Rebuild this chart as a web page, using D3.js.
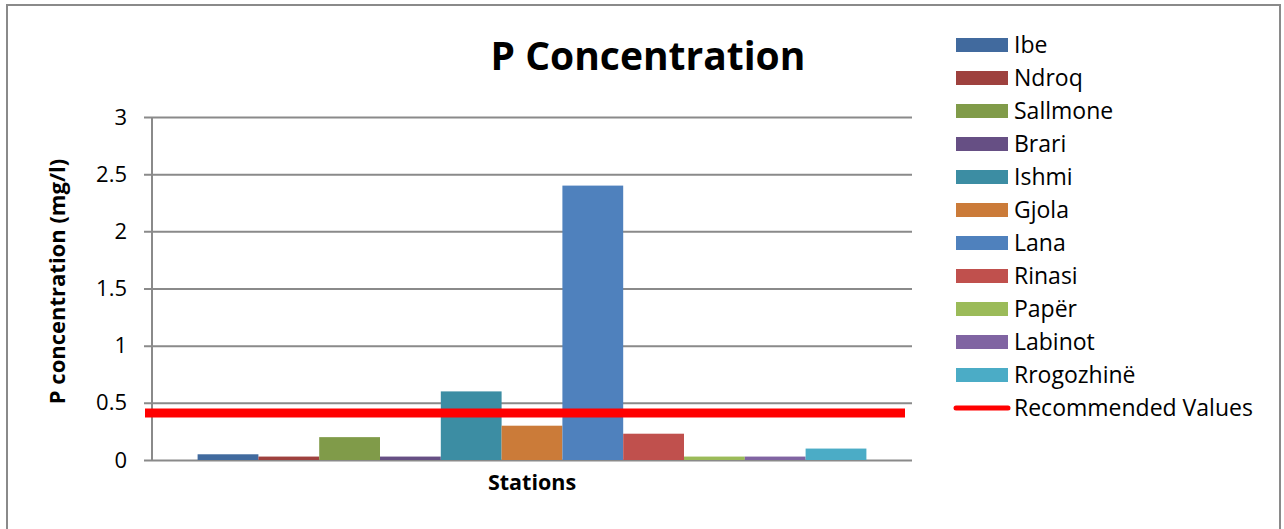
<!DOCTYPE html>
<html>
<head>
<meta charset="utf-8">
<script src="https://cdn.jsdelivr.net/npm/d3@7"></script>
<style>
  html, body { margin: 0; padding: 0; background: #fff; }
  svg text { font-family: "Open Sans", Lato, sans-serif; fill: #000; }
</style>
</head>
<body>
<svg id="chart" width="1284" height="529"></svg>
<script>
// Phosphorus concentration per station (mg/l)
const stations = ["Ibe", "Ndroq", "Sallmone", "Brari", "Ishmi", "Gjola", "Lana", "Rinasi", "Papër", "Labinot", "Rrogozhinë"];
const values = [0.05, 0.03, 0.20, 0.03, 0.60, 0.30, 2.40, 0.23, 0.03, 0.03, 0.10];
const colors = ["#416A9E", "#9E413E", "#809B49", "#664F84", "#3C8DA3", "#CB7B39", "#4F81BD", "#C0504D", "#9BBB59", "#8064A2", "#4BACC6"];
const recommended = 0.41;
const recommendedLabel = "Recommended Values";
const yTicks = [0, 0.5, 1, 1.5, 2, 2.5, 3];
const yTickLabels = ["0", "0.5", "1", "1.5", "2", "2.5", "3"];
const category = ["Stations"];

const svg = d3.select("#chart");
const W = 1284, H = 529;
const plot = { left: 152, right: 912, top: 117, bottom: 460 };
const grid = "#8a8a8a";

// outer chart frame
svg.append("path")
  .attr("d", `M7,${H} V5 H1280 V${H}`)
  .attr("fill", "none").attr("stroke", grid).attr("stroke-width", 2);

const y = d3.scaleLinear().domain([0, 3]).range([plot.bottom, plot.top]);

// single category band holding all station bars (150% gap width)
const x0 = d3.scaleBand().domain(category).range([plot.left, plot.right]).paddingInner(0).paddingOuter(0);
const barW = x0.bandwidth() / (stations.length + 1.5);
const x1 = d3.scaleBand().domain(stations)
  .range([x0("Stations") + barW * 0.75, x0("Stations") + x0.bandwidth() - barW * 0.75])
  .padding(0);

// gridlines + tick marks
const yAxis = d3.axisLeft(y).tickValues(yTicks)
  .tickFormat((d, i) => yTickLabels[i])
  .tickSize(-(plot.right - plot.left)).tickSizeOuter(0).tickPadding(25);
const gy = svg.append("g").attr("transform", `translate(${plot.left},0)`).call(yAxis);
gy.select(".domain").remove();
gy.selectAll(".tick line").attr("stroke", grid).attr("stroke-width", 2).attr("x1", -8);
gy.selectAll(".tick text").attr("font-size", 22).attr("fill", "#000")
  .style("font-family", "'Open Sans', sans-serif");

// vertical axis line
svg.append("line")
  .attr("x1", plot.left).attr("x2", plot.left)
  .attr("y1", y(3)).attr("y2", y(0))
  .attr("stroke", grid).attr("stroke-width", 2);

// bars
svg.append("g").selectAll("rect").data(stations).join("rect")
  .attr("x", d => x1(d))
  .attr("width", x1.bandwidth())
  .attr("y", (d, i) => y(values[i]))
  .attr("height", (d, i) => y(0) - y(values[i]))
  .attr("fill", (d, i) => colors[i]);

// recommended-value line
svg.append("line")
  .attr("x1", plot.left - 7).attr("x2", plot.right - 7)
  .attr("y1", y(recommended)).attr("y2", y(recommended))
  .attr("stroke", "#FF0000").attr("stroke-width", 9);

// title
svg.append("text")
  .attr("x", 648).attr("y", 70)
  .attr("text-anchor", "middle")
  .attr("font-size", 39).attr("font-weight", "bold")
  .text("P Concentration");

// axis titles
svg.append("text")
  .attr("x", 532)
  .attr("y", 490)
  .attr("text-anchor", "middle")
  .attr("font-size", 21.5).attr("font-weight", "bold")
  .text("Stations");

svg.append("text")
  .attr("transform", `translate(65,${(plot.top + plot.bottom) / 2 - 7}) rotate(-90)`)
  .attr("text-anchor", "middle")
  .attr("font-size", 22).attr("font-weight", "bold")
  .text("P concentration (mg/l)");

// legend
const legend = svg.append("g").attr("transform", "translate(956,45)");
const rowH = 33;
const items = legend.selectAll("g").data(stations).join("g")
  .attr("transform", (d, i) => `translate(0,${i * rowH})`);
items.append("rect")
  .attr("x", 0).attr("y", -7).attr("width", 52).attr("height", 14)
  .attr("fill", (d, i) => colors[i]);
items.append("text")
  .attr("x", 58).attr("y", 8)
  .attr("font-size", 23)
  .text(d => d);

const lineItem = legend.append("g").attr("transform", `translate(0,${stations.length * rowH})`);
lineItem.append("line")
  .attr("x1", 0).attr("x2", 52).attr("y1", 0).attr("y2", 0)
  .attr("stroke", "#FF0000").attr("stroke-width", 5).attr("stroke-linecap", "round");
lineItem.append("text")
  .attr("x", 58).attr("y", 8)
  .attr("font-size", 23)
  .text(recommendedLabel);
</script>
</body>
</html>
